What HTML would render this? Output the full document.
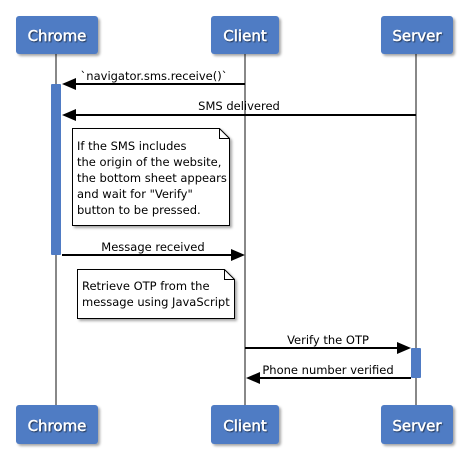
<!DOCTYPE html>
<html><head><style>
html,body{margin:0;padding:0;background:#fff;}
svg{display:block;}
text{font-family:"DejaVu Sans","Liberation Sans",sans-serif;}
</style></head><body>
<svg width="468" height="468" viewBox="0 0 468 468" xmlns="http://www.w3.org/2000/svg">
<defs>
<filter id="sh" x="-10%" y="-10%" width="130%" height="140%"><feDropShadow dx="2" dy="2" stdDeviation="1.2" flood-color="#000" flood-opacity="0.35"/></filter>
<filter id="ts" x="-10%" y="-20%" width="130%" height="150%"><feDropShadow dx="1" dy="1" stdDeviation="0.6" flood-color="#000" flood-opacity="0.6"/></filter>
</defs>
<g stroke="#888" stroke-width="2">
<line x1="56" y1="54" x2="56" y2="405"/>
<line x1="245" y1="54" x2="245" y2="405"/>
<line x1="416" y1="54" x2="416" y2="405"/>
</g>
<g fill="#4f7bc4" filter="url(#sh)">
<rect x="16" y="16" width="82" height="38" rx="3"/>
<rect x="211" y="16" width="68" height="38" rx="3"/>
<rect x="381" y="16" width="72" height="38" rx="3"/>
<rect x="16" y="405" width="82" height="39" rx="3"/>
<rect x="211" y="405" width="68" height="39" rx="3"/>
<rect x="381" y="405" width="72" height="39" rx="3"/>
</g>
<g fill="#fff" font-size="15" text-anchor="middle" filter="url(#ts)" stroke="#fff" stroke-width="0.4">
<text x="57" y="41">Chrome</text>
<text x="245" y="41">Client</text>
<text x="417" y="41">Server</text>
<text x="57" y="431">Chrome</text>
<text x="245" y="431">Client</text>
<text x="417" y="431">Server</text>
</g>
<rect x="51" y="84" width="10" height="171" rx="1" fill="#4f7bc4"/>
<rect x="411" y="348" width="10" height="30" rx="1" fill="#4f7bc4"/>
<g stroke="#000" stroke-width="2">
<line x1="245" y1="84" x2="72" y2="84"/>
<line x1="416" y1="115" x2="72" y2="115"/>
<line x1="62" y1="255" x2="234" y2="255"/>
<line x1="245" y1="348" x2="400" y2="348"/>
<line x1="411" y1="378" x2="258" y2="378"/>
</g>
<g fill="#000">
<polygon points="62,84 76,78 76,90"/>
<polygon points="62,115 76,109 76,121"/>
<polygon points="245,255 231,249 231,261"/>
<polygon points="411,348 397,342 397,354"/>
<polygon points="246,378 260,372 260,384"/>
</g>
<g font-size="11.5" fill="#000" text-anchor="middle">
<text x="154" y="80">`navigator.sms.receive()`</text>
<text x="239" y="110">SMS delivered</text>
<text x="153" y="251">Message received</text>
<text x="328" y="344">Verify the OTP</text>
<text x="328" y="374">Phone number verified</text>
</g>
<g filter="url(#sh)" fill="#fff" stroke="#000" stroke-width="1">
<path d="M72.5,128.5 H219.5 L229.5,138.5 V225.5 H72.5 Z"/>
<path d="M77.5,269.5 H224.5 L234.5,279.5 V318.5 H77.5 Z"/>
</g>
<g fill="none" stroke="#000" stroke-width="1">
<path d="M219.5,128.5 V138.5 H229.5"/>
<path d="M224.5,269.5 V279.5 H234.5"/>
</g>
<g font-size="11.5" fill="#000">
<text x="77" y="150">If the SMS includes</text>
<text x="77" y="166">the origin of the website,</text>
<text x="77" y="182">the bottom sheet appears</text>
<text x="77" y="198">and wait for "Verify"</text>
<text x="77" y="214">button to be pressed.</text>
<text x="82" y="290">Retrieve OTP from the</text>
<text x="82" y="306">message using JavaScript</text>
</g>
</svg>
</body></html>
